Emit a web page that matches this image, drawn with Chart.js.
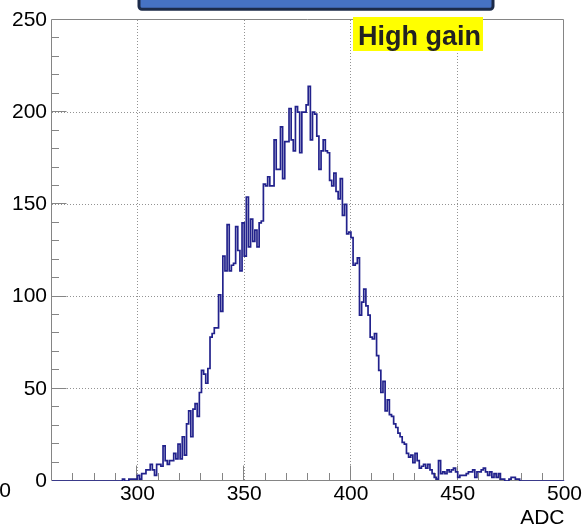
<!DOCTYPE html>
<html>
<head>
<meta charset="utf-8">
<title>High gain</title>
<script src="https://cdn.jsdelivr.net/npm/chart.js@4.4.1/dist/chart.umd.min.js"></script>
<style>
  html, body { margin: 0; padding: 0; background: #ffffff; }
  #chart-canvas { display: block; }
</style>
</head>
<body>
<canvas id="chart-canvas" width="583" height="527"></canvas>
<script>
// ADC spectrum, high gain channel: 1 ADC wide bins drawn as a step outline.
(function() {
  "use strict";

  // ===== Data =====
  var BIN_LOW = 260;
  var BIN_HIGH = 500;
  var FIRST_FILLED = 290;   // COUNTS[0] is the bin [290, 291); bins outside are empty
  var COUNTS = [
    0, 0, 0, 1, 0, 0, 1, 1, 1, 1,                  // 290
    3, 1, 4, 4, 6, 6, 9, 6, 3, 9,                  // 300
    9, 8, 19, 11, 9, 11, 11, 15, 12, 20,           // 310
    12, 24, 14, 31, 38, 24, 39, 42, 35, 48,        // 320
    60, 58, 53, 61, 78, 80, 83, 83, 101, 92,       // 330
    122, 114, 139, 114, 117, 118, 138, 125, 114, 140, // 340
    122, 154, 127, 142, 130, 136, 127, 140, 141, 161, // 350
    160, 165, 160, 160, 185, 169, 169, 192, 164, 184, // 360
    184, 202, 185, 179, 203, 200, 178, 200, 200, 204, // 370
    214, 185, 200, 199, 187, 169, 179, 185, 179, 178, // 380
    163, 160, 167, 157, 153, 164, 144, 150, 134, 135, // 390
    132, 117, 118, 121, 90, 97, 104, 95, 90, 78,   // 400
    77, 80, 68, 60, 48, 54, 38, 44, 36, 35,        // 410
    31, 29, 26, 24, 21, 20, 15, 13, 14, 10,        // 420
    15, 11, 7, 8, 9, 7, 9, 6, 4, 2,                // 430
    1, 11, 4, 5, 4, 6, 5, 6, 7, 5,                 // 440
    2, 3, 3, 3, 4, 5, 5, 6, 2, 5,                  // 450
    5, 6, 7, 5, 3, 5, 2, 4, 2, 4,                  // 460
    1, 1, 0, 0, 1, 2, 2, 1, 1, 0                   // 470
  ];
  var X_TICKS = [300, 350, 400, 450, 500];
  var Y_TICKS = [0, 50, 100, 150, 200, 250];
  var Y_MAX = 250;
  var LABEL_TEXT = "High gain";
  var X_TITLE = "ADC";

  // ===== Styles =====
  var FONT = "'Liberation Sans', Arial, Helvetica, sans-serif";
  var LINE_COLOR = "#22228c";
  var FRAME_COLOR = "#858585";
  var GRID_COLOR = "#939393";

  function binCount(k) {
    var i = k - FIRST_FILLED;
    return (i >= 0 && i < COUNTS.length) ? COUNTS[i] : 0;
  }

  // one point per bin low edge; stepped line holds the value across the bin
  var points = [];
  for (var k = BIN_LOW; k < BIN_HIGH; k++) {
    points.push({ x: k, y: binCount(k) });
  }
  points.push({ x: BIN_HIGH, y: 0 });

  function crisp(v) {
    return Math.round(v) + 0.5;
  }

  // ===== Frame and inward ticks (ROOT style) =====
  var frameAxes = {
    id: "frameAxes",
    beforeDatasetsDraw: function(chart) {
      var ctx = chart.ctx;
      var a = chart.chartArea;
      var xs = chart.scales.x;
      var ys = chart.scales.y;
      var left = crisp(a.left - 1), right = crisp(a.right - 1);
      var top = crisp(a.top - 1), bottom = crisp(a.bottom - 1);

      ctx.save();
      ctx.strokeStyle = FRAME_COLOR;
      ctx.lineWidth = 1;
      ctx.beginPath();
      ctx.rect(left, top, right - left, bottom - top);

      for (var v = xs.min + 10; v < xs.max; v += 10) {
        var px = crisp(xs.getPixelForValue(v) - 1);
        var lx = (v % 50 === 0) ? 15 : 7.5;
        ctx.moveTo(px, bottom);
        ctx.lineTo(px, bottom - lx);
      }
      for (var w = ys.min + 10; w < ys.max; w += 10) {
        var py = crisp(ys.getPixelForValue(w) - 1);
        var ly = (w % 50 === 0) ? 15 : 7.5;
        ctx.moveTo(left, py);
        ctx.lineTo(left + ly, py);
      }
      ctx.stroke();
      ctx.restore();
    }
  };

  // ===== Header box, label and axis title =====
  var annotations = {
    id: "annotations",
    afterDraw: function(chart) {
      var ctx = chart.ctx;
      var xs = chart.scales.x;
      ctx.save();

      // title box running off the top edge
      ctx.fillStyle = "#4672c4";
      ctx.strokeStyle = "#1c2b4a";
      ctx.lineWidth = 3;
      ctx.beginPath();
      ctx.roundRect(139, -20, 354, 29.2, 3);
      ctx.fill();
      ctx.stroke();

      // yellow tag
      ctx.fillStyle = "#ffff00";
      ctx.fillRect(353, 17, 130, 34);
      ctx.fillStyle = "#222222";
      ctx.font = "bold 27px " + FONT;
      ctx.textAlign = "left";
      ctx.textBaseline = "alphabetic";
      ctx.fillText(LABEL_TEXT, 358, 45);

      // axis title, right aligned at the end of the x axis
      ctx.font = "21px " + FONT;
      ctx.fillStyle = "#000000";
      ctx.textAlign = "right";
      ctx.textBaseline = "middle";
      ctx.fillText(X_TITLE, xs.right, 518);

      // stray label at the left edge
      ctx.fillText("0", 11, 491);
      ctx.restore();
    }
  };

  var canvas = document.getElementById("chart-canvas");
  new Chart(canvas, {
    type: "line",
    data: {
      datasets: [{
        data: points,
        stepped: true,
        borderColor: LINE_COLOR,
        borderWidth: 1.7,
        pointRadius: 0,
        fill: false,
        tension: 0
      }]
    },
    options: {
      responsive: false,
      animation: false,
      devicePixelRatio: 1,
      layout: { padding: { left: 0, right: 17, top: 20, bottom: 0 } },
      plugins: {
        legend: { display: false },
        tooltip: { enabled: false }
      },
      scales: {
        x: {
          type: "linear",
          min: BIN_LOW,
          max: BIN_HIGH,
          afterBuildTicks: function(scale) {
            scale.ticks = X_TICKS.map(function(v) { return { value: v }; });
          },
          afterFit: function(scale) { scale.height = 46; },
          ticks: {
            color: "#000000",
            font: { size: 21, family: FONT },
            padding: 1,
            maxRotation: 0,
            autoSkip: false,
            callback: function(v) { return String(v); }
          },
          grid: {
            drawTicks: false,
            lineWidth: 1,
            color: function(c) {
              return (c.tick && c.tick.value === BIN_HIGH) ? "rgba(0,0,0,0)" : GRID_COLOR;
            }
          },
          border: { display: false, dash: [1, 2] }
        },
        y: {
          min: 0,
          max: Y_MAX,
          afterBuildTicks: function(scale) {
            scale.ticks = Y_TICKS.map(function(v) { return { value: v }; });
          },
          afterFit: function(scale) { scale.width = 52; },
          ticks: {
            color: "#000000",
            font: { size: 21, family: FONT },
            padding: 5,
            callback: function(v) { return String(v); }
          },
          grid: {
            drawTicks: false,
            lineWidth: 1,
            color: function(c) {
              var v = c.tick ? c.tick.value : null;
              return (v === 0 || v === Y_MAX) ? "rgba(0,0,0,0)" : GRID_COLOR;
            }
          },
          border: { display: false, dash: [1, 2] }
        }
      }
    },
    plugins: [frameAxes, annotations]
  });
})();
</script>
</body>
</html>
